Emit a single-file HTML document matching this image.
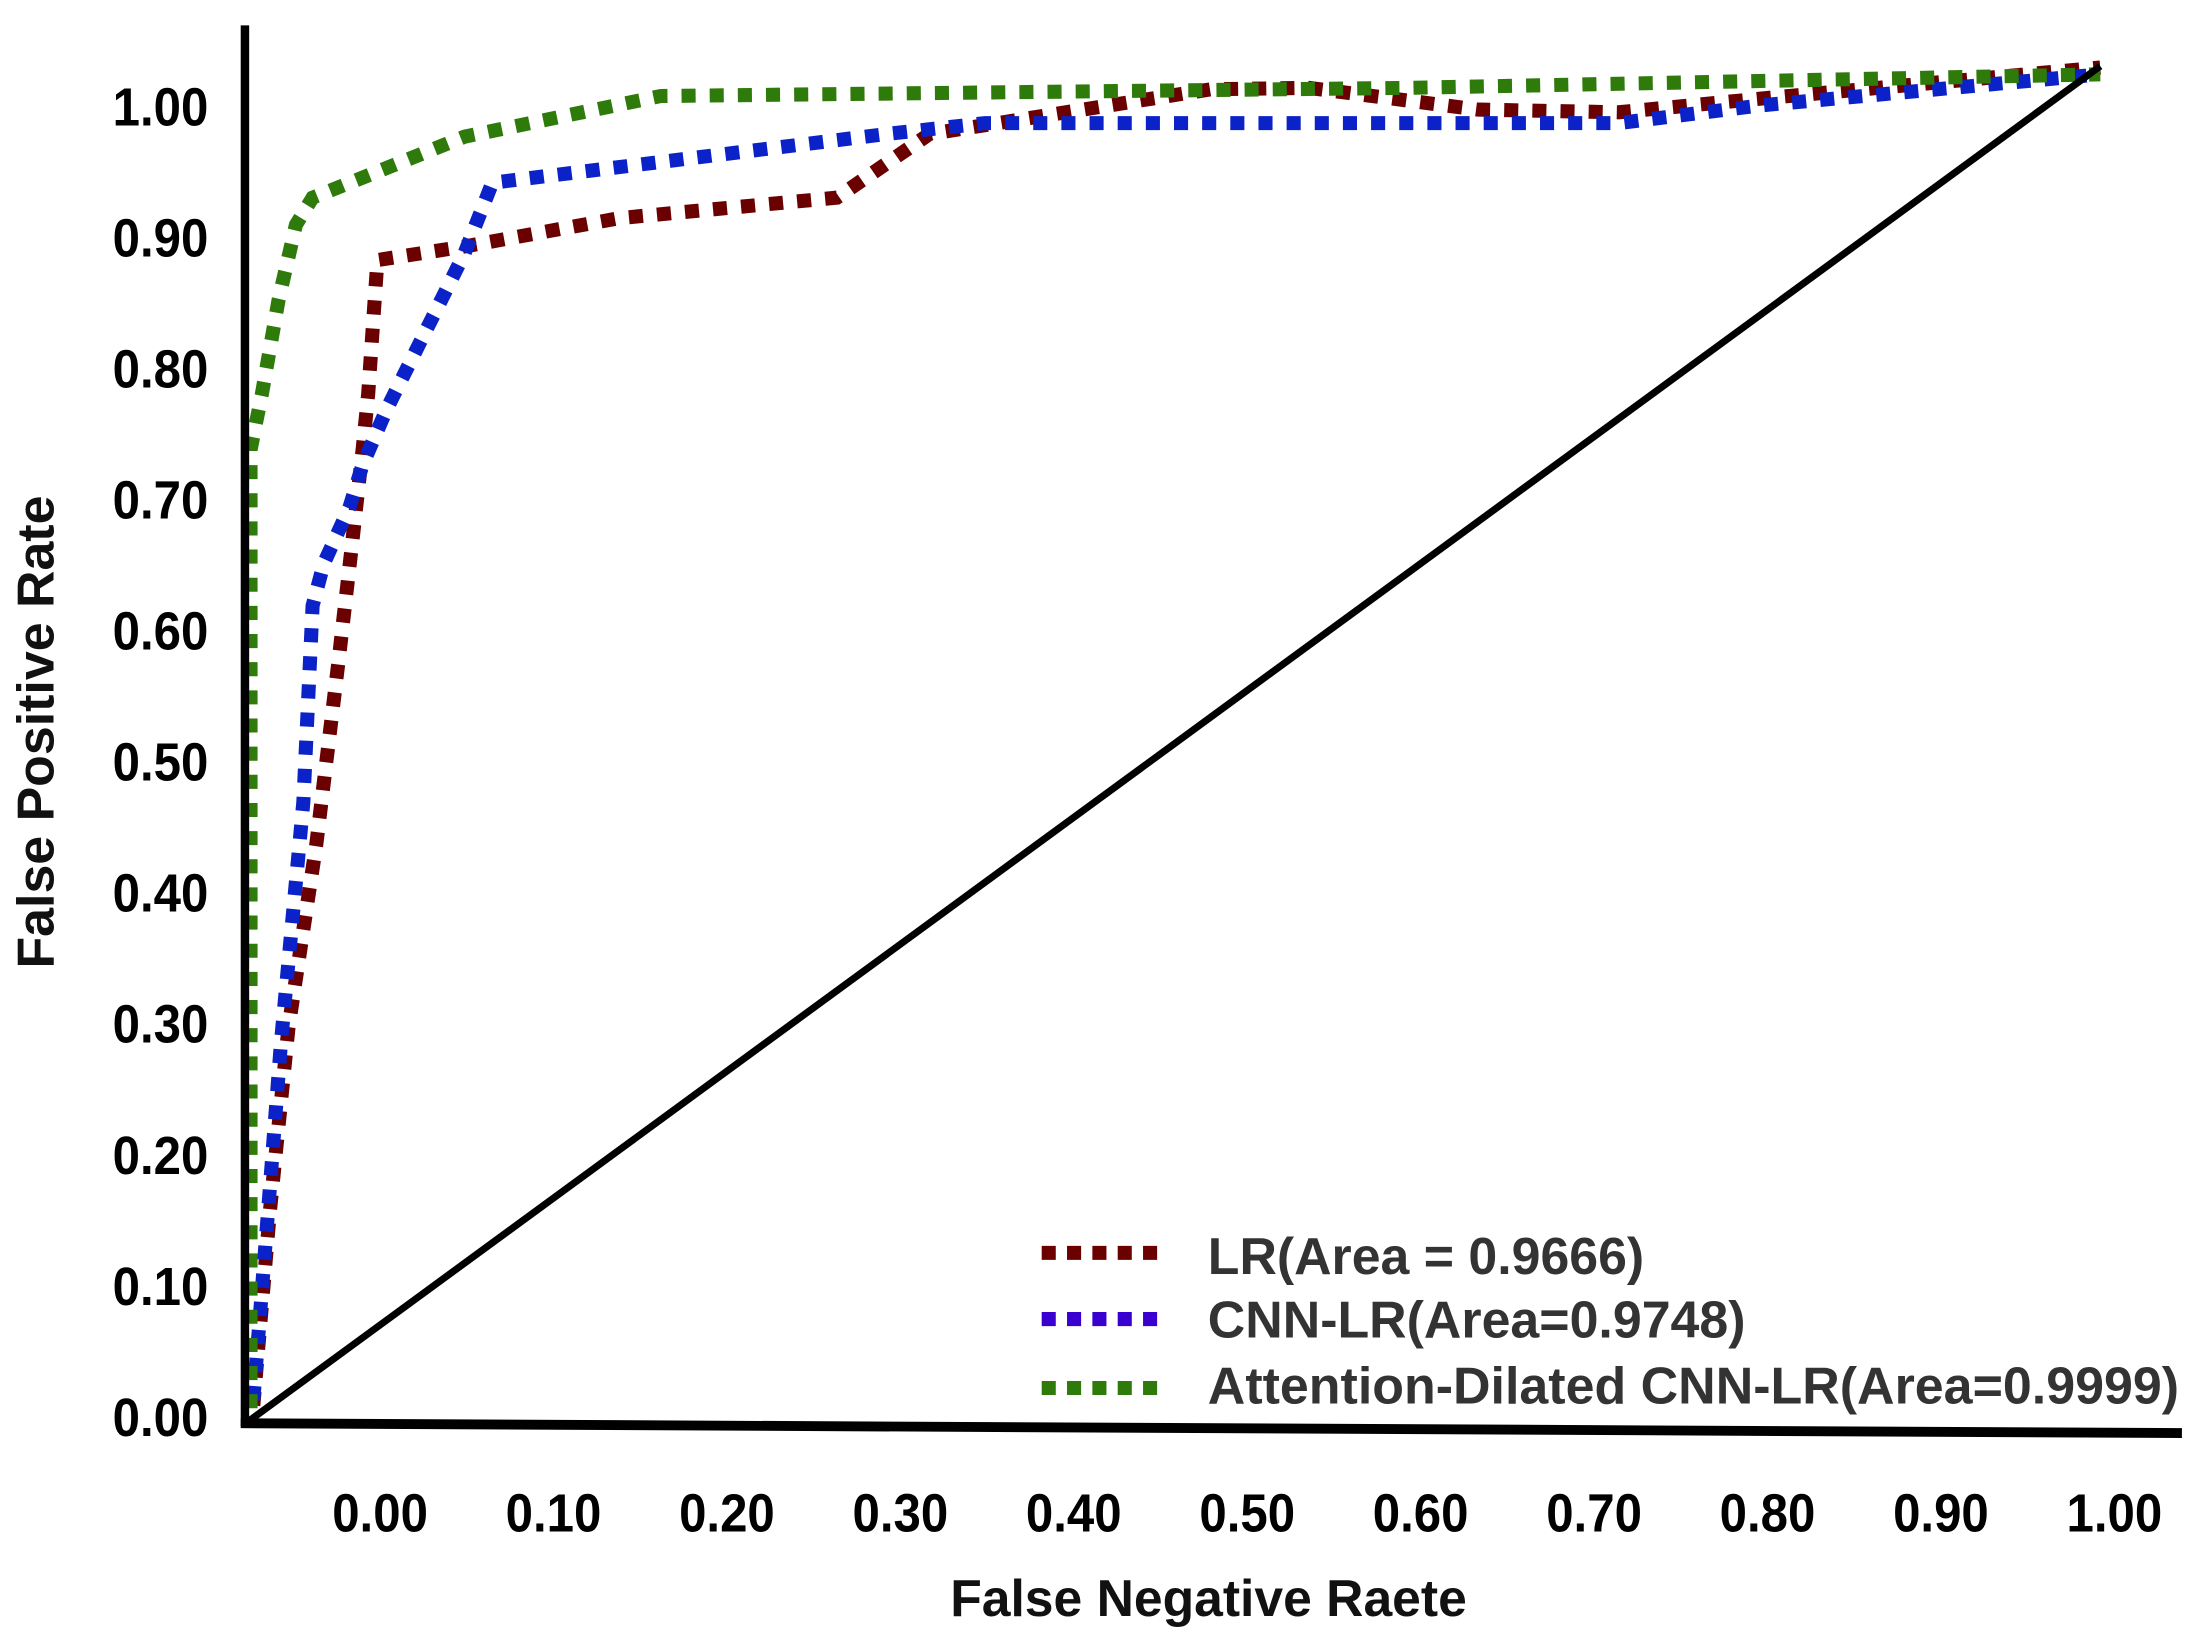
<!DOCTYPE html>
<html><head><meta charset="utf-8"><style>
html,body{margin:0;padding:0;background:#fff;}
svg{display:block;}
text{font-family:"Liberation Sans",Arial,sans-serif;font-weight:bold;}
</style></head><body>
<svg id="chart" width="2196" height="1633" viewBox="0 0 1560 1160" xmlns="http://www.w3.org/2000/svg">
<g id="marks"></g>
<line x1="176" y1="1010" x2="1492" y2="47" stroke="#000" stroke-width="5"/>
<line x1="174" y1="18" x2="174" y2="1013" stroke="#000" stroke-width="6"/>
<line x1="171" y1="1011" x2="1550" y2="1018" stroke="#000" stroke-width="7"/>
<g id="yticks"></g>
<g id="xticks"></g>
<text x="675" y="1148" font-size="37" fill="#111" textLength="367" lengthAdjust="spacingAndGlyphs">False Negative Raete</text>
<text transform="translate(38,520) rotate(-90)" font-size="37" text-anchor="middle" fill="#111" textLength="336" lengthAdjust="spacingAndGlyphs">False Positive Rate</text>
<g>
 <g>
  <line x1="740" y1="890" x2="824" y2="890" stroke="#6b0000" stroke-width="10" stroke-dasharray="10 8"/>
  <text x="858" y="905" font-size="37" fill="#333" textLength="310" lengthAdjust="spacingAndGlyphs">LR(Area = 0.9666)</text>
 </g>
 <g>
  <line x1="740" y1="937" x2="824" y2="937" stroke="#3a00d0" stroke-width="10" stroke-dasharray="10 8"/>
  <text x="858" y="950" font-size="37" fill="#333" textLength="382" lengthAdjust="spacingAndGlyphs">CNN-LR(Area=0.9748)</text>
 </g>
 <g>
  <line x1="740" y1="986" x2="824" y2="986" stroke="#2e7a0a" stroke-width="10" stroke-dasharray="10 8"/>
  <text x="858" y="997" font-size="37" fill="#333" textLength="690" lengthAdjust="spacingAndGlyphs">Attention-Dilated CNN-LR(Area=0.9999)</text>
 </g>
</g>
</svg>
<script>
const xTickLabels = ["0.00","0.10","0.20","0.30","0.40","0.50","0.60","0.70","0.80","0.90","1.00"];
const xTickValues = [0,0.1,0.2,0.3,0.4,0.5,0.6,0.7,0.8,0.9,1.0];
const yTickLabels = ["0.00","0.10","0.20","0.30","0.40","0.50","0.60","0.70","0.80","0.90","1.00"];
const yTickValues = [0,0.1,0.2,0.3,0.4,0.5,0.6,0.7,0.8,0.9,1.0];
const lrX = [0.003,0.012,0.022,0.037,0.049,0.056,0.062,0.065,0.070,0.117,0.201,0.318,0.368,0.520,0.573,0.664,0.740,0.816,1.0];
const lrY = [0.012,0.156,0.291,0.426,0.561,0.644,0.717,0.758,0.857,0.867,0.888,0.903,0.950,0.983,0.984,0.968,0.966,0.976,0.999];
const cnnX = [0.003,0.011,0.018,0.030,0.035,0.041,0.055,0.062,0.075,0.094,0.117,0.132,0.345,0.398,0.740,0.816,1.0];
const cnnY = [0.016,0.156,0.281,0.457,0.602,0.633,0.675,0.706,0.747,0.799,0.862,0.914,0.950,0.958,0.958,0.971,0.994];
const attX = [0.0015,0.0015,0.0076,0.0167,0.026,0.035,0.117,0.223,0.626,1.0];
const attY = [0.010,0.717,0.758,0.828,0.883,0.903,0.948,0.978,0.984,0.994];

const NS="http://www.w3.org/2000/svg";
function sx(v){return 176+v*1316;}
function sy(v){return 1010-v*963;}
function lx(v){return 270+v*1232;}
function ly(v){return 1006-v*931;}

const marks=document.getElementById('marks');
function drawSeries(xs,ys,color,name){
  const p=document.createElementNS(NS,'polyline');
  p.setAttribute('points',xs.map((x,i)=>sx(x)+','+sy(ys[i])).join(' '));
  p.setAttribute('fill','none');
  p.setAttribute('stroke',color);
  p.setAttribute('stroke-width','10');
  p.setAttribute('stroke-dasharray','10 10');
  
  
  marks.appendChild(p);
}
drawSeries(lrX,lrY,'#6b0000','lr-roc-curve');
drawSeries(cnnX,cnnY,'#0a22c8','cnn-lr-roc-curve');
drawSeries(attX,attY,'#2e7a0a','attention-dilated-cnn-lr-roc-curve');

const xt=document.getElementById('xticks');
xTickValues.forEach((v,i)=>{
  const t=document.createElementNS(NS,'text');
  t.setAttribute('x',lx(v)-34);t.setAttribute('y',1088);
  t.setAttribute('font-size','38');t.setAttribute('fill','#000');
  t.setAttribute('textLength','68');t.setAttribute('lengthAdjust','spacingAndGlyphs');
  t.textContent=xTickLabels[i];
  
  
  xt.appendChild(t);
});
const yt=document.getElementById('yticks');
yTickValues.forEach((v,i)=>{
  const t=document.createElementNS(NS,'text');
  t.setAttribute('x',80);t.setAttribute('y',ly(v)+14);
  t.setAttribute('font-size','38');t.setAttribute('fill','#000');
  t.setAttribute('textLength','68');t.setAttribute('lengthAdjust','spacingAndGlyphs');
  t.textContent=yTickLabels[i];
  
  
  yt.appendChild(t);
});
</script>
</body></html>
